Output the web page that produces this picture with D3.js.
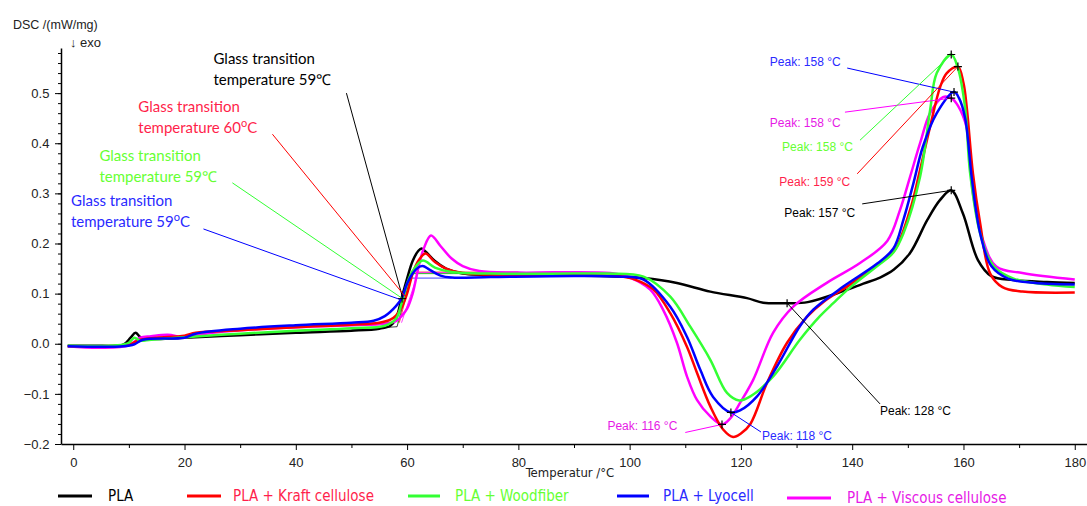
<!DOCTYPE html>
<html>
  <head>
    <meta charset="utf-8" />
    <title>DSC curves</title>
    <script src="https://d3js.org/d3.v7.min.js"></script>
    <style>
      body { margin: 0; background: #fff; }
      svg { display: block; }
    </style>
  </head>
  <body>
    <svg id="plot" width="1087" height="506"></svg>

    <script>
      // series: [temperature °C, DSC mW/mg]
      var pla = [[-1,-0.004],[5,-0.004],[9,-0.002],[10.3,0.012],[11.2,0.022],[12,0.014],[13,0.01],[20,0.012],[30,0.017],[40,0.022],[50,0.026],[55,0.03],[57,0.036],[58,0.05],[59,0.09],[60,0.13],[61,0.165],[62,0.185],[62.6,0.19],[63.5,0.182],[65,0.165],[67,0.15],[70,0.14],[80,0.137],[90,0.136],[100,0.133],[102.5,0.131],[108.5,0.121],[114.5,0.104],[121.1,0.091],[124,0.082],[128.3,0.081],[132,0.083],[138.4,0.105],[142,0.12],[145,0.132],[147.5,0.148],[150.4,0.181],[153.5,0.247],[155.8,0.287],[157.8,0.306],[159.9,0.26],[162.6,0.167],[165,0.135],[169,0.127],[175,0.123],[180,0.121]];
      var kraft = [[-1,-0.005],[8,-0.004],[10,-0.002],[12,0.008],[15,0.012],[20,0.016],[22,0.022],[30,0.027],[40,0.033],[50,0.038],[55,0.042],[57,0.048],[58,0.056],[59,0.072],[60,0.1],[61,0.14],[62,0.165],[63.3,0.18],[65,0.163],[67,0.15],[70,0.141],[80,0.137],[90,0.136],[98,0.135],[101,0.128],[104.3,0.108],[107.3,0.061],[110.3,-0.006],[112.1,-0.058],[114.5,-0.125],[116.8,-0.171],[118.6,-0.186],[120,-0.179],[121.7,-0.16],[124.7,-0.078],[128.3,0.002],[131.9,0.054],[135,0.085],[139.6,0.118],[144.5,0.158],[147.5,0.185],[150.4,0.267],[152.2,0.347],[154,0.433],[155.8,0.512],[157,0.54],[159,0.553],[160,0.52],[160.6,0.47],[161.7,0.34],[163,0.24],[164.8,0.14],[167,0.113],[170.6,0.104],[180,0.102]];
      var woodfiber = [[-1,-0.004],[8,-0.003],[10,0.002],[11,0.012],[12,0.006],[14,0.008],[20,0.013],[30,0.02],[40,0.026],[50,0.031],[56,0.036],[58,0.05],[59,0.08],[60,0.12],[61,0.145],[62.8,0.166],[65,0.152],[68,0.143],[75,0.14],[90,0.14],[96,0.14],[102.5,0.134],[107.3,0.094],[110.9,0.034],[114.5,-0.032],[117.5,-0.098],[119.7,-0.113],[121.7,-0.105],[125.8,-0.065],[130.6,0.008],[134.2,0.055],[136.6,0.081],[139.6,0.112],[144.5,0.155],[147.4,0.182],[149.2,0.22],[152.2,0.333],[154,0.466],[155.2,0.54],[157.8,0.577],[159,0.55],[160.3,0.47],[161.2,0.34],[163,0.22],[165.4,0.155],[169,0.13],[175,0.118],[180,0.113]];
      var lyocell = [[-1,-0.005],[9,-0.005],[11,-0.001],[12.5,0.008],[20,0.012],[22,0.02],[30,0.03],[40,0.037],[50,0.042],[54,0.046],[56,0.055],[58,0.075],[59,0.09],[60,0.12],[61,0.14],[62,0.152],[62.8,0.155],[64,0.148],[66,0.136],[68,0.132],[75,0.133],[90,0.135],[98,0.134],[102.5,0.128],[107.3,0.074],[110.3,0.014],[112.7,-0.052],[115,-0.106],[118.2,-0.137],[120,-0.132],[122.9,-0.105],[126.5,-0.045],[130.6,0.035],[133,0.068],[138.4,0.114],[144.5,0.16],[147.4,0.19],[149.2,0.247],[151,0.32],[152.7,0.393],[155.2,0.46],[158.3,0.502],[159.2,0.49],[160.3,0.45],[161.5,0.33],[163,0.22],[165,0.155],[168,0.13],[172,0.122],[180,0.118]];
      var viscous = [[-1,-0.005],[5,-0.008],[10,-0.003],[12,0.012],[14,0.015],[17,0.018],[20,0.013],[25,0.022],[30,0.027],[40,0.033],[50,0.037],[56,0.04],[58,0.045],[59,0.055],[60,0.07],[61,0.1],[62,0.15],[63,0.19],[64.3,0.216],[66,0.195],[68,0.17],[70,0.155],[73,0.145],[80,0.142],[96.5,0.141],[100,0.132],[103.7,0.108],[106,0.068],[108.5,0.002],[110.3,-0.065],[112.1,-0.112],[114.5,-0.145],[116.6,-0.161],[118,-0.15],[120,-0.115],[122.2,-0.072],[125.8,0.022],[129.4,0.074],[135.5,0.122],[141.4,0.161],[146.3,0.205],[148.6,0.267],[150.4,0.333],[152.2,0.4],[154,0.46],[156.3,0.492],[157.8,0.49],[159,0.475],[160.6,0.43],[161.7,0.3],[163.5,0.207],[165.9,0.154],[170.6,0.141],[180,0.128]];

      // thin onset construction lines near Tg
      var tgLines = [
        [[50,0.028],[58.2,0.034],[60.8,0.14],[70,0.14]],
        [[58.6,0.042],[61,0.143],[80,0.143]],
        [[58.3,0.04],[60.6,0.14],[72,0.14]],
        [[58,0.046],[60.4,0.131],[68,0.131]],
        [[59,0.042],[62,0.142],[76,0.142]]
      ];

      var seriesNames = ["PLA", "PLA + Kraft cellulose", "PLA + Woodfiber", "PLA + Lyocell", "PLA + Viscous cellulose"];
      var seriesData = [pla, kraft, woodfiber, lyocell, viscous];
      var lineColors = ["#000000", "#ff0000", "#33ff33", "#0000ff", "#ff00ff"];
      var textColors = ["#000000", "#ff1f4b", "#66ff33", "#2a2aff", "#e619e6"];
      var drawOrder = [0, 4, 1, 2, 3];

      var xTicks = [0, 20, 40, 60, 80, 100, 120, 140, 160, 180];
      var yTicks = [-0.2, -0.1, 0.0, 0.1, 0.2, 0.3, 0.4, 0.5];

      // glass transition labels: series, text lines, label pos, leader start, leader end
      var tgLabels = [
        { s: 0, l1: "Glass transition", l2: "temperature 59", deg: "℃", at: [25.2, 0.558], from: [49.1, 0.5], to: [59.2, 0.092] },
        { s: 1, l1: "Glass transition", l2: "temperature 60", deg: "oC", at: [11.7, 0.462], from: [35.8, 0.418], to: [59.6, 0.095] },
        { s: 2, l1: "Glass transition", l2: "temperature 59", deg: "℃", at: [4.7, 0.365], from: [28.6, 0.321], to: [59.2, 0.09] },
        { s: 3, l1: "Glass transition", l2: "temperature 59", deg: "oC", at: [-0.4, 0.275], from: [23.4, 0.229], to: [58.8, 0.088] }
      ];

      // peak labels
      var peakLabels = [
        { s: 3, text: "Peak: 158 °C", at: [125.2, 0.554], from: [139.1, 0.55], peak: [158.3, 0.502] },
        { s: 4, text: "Peak: 158 °C", at: [125.2, 0.432], from: [138.7, 0.462], peak: [157.8, 0.49] },
        { s: 2, text: "Peak: 158 °C", at: [127.4, 0.384], from: [141.4, 0.406], peak: [157.8, 0.577] },
        { s: 1, text: "Peak: 159 °C", at: [126.9, 0.315], from: [140.9, 0.339], peak: [159, 0.553] },
        { s: 0, text: "Peak: 157 °C", at: [127.8, 0.253], from: [141.8, 0.279], peak: [157.8, 0.306] },
        { s: 4, text: "Peak: 116 °C", at: [96, -0.173], from: [110, -0.177], peak: [116.6, -0.161] },
        { s: 3, text: "Peak: 118 °C", at: [123.8, -0.193], from: [123.6, -0.176], peak: [118.2, -0.137] },
        { s: 0, text: "Peak: 128 °C", at: [145, -0.143], from: [145, -0.12], peak: [128.3, 0.081] }
      ];

      const svg = d3.select("#plot");
      var x = d3.scaleLinear().domain([-2.2, 182.2]).range([61, 1087]);
      var y = d3.scaleLinear().domain([-0.2, 0.59]).range([444, 48]);

      // axes
      var xMinor = svg.append("g").attr("transform", "translate(0,444)")
        .call(d3.axisBottom(x).tickValues(d3.range(10, 181, 20)).tickSize(4).tickFormat(""));
      var xAxis = svg.append("g").attr("transform", "translate(0,444)")
        .call(d3.axisBottom(x).tickValues(xTicks).tickSize(6).tickSizeOuter(0).tickFormat(d3.format("d")));
      var yMinor = svg.append("g").attr("transform", "translate(61,0)")
        .call(d3.axisLeft(y).tickValues(d3.range(-0.2, 0.59, 0.02)).tickSize(3).tickFormat(""));
      var yAxis = svg.append("g").attr("transform", "translate(61,0)")
        .call(d3.axisLeft(y).tickValues(yTicks).tickSize(6).tickSizeOuter(0).tickFormat(d3.format(".1f")));

      svg.selectAll(".domain").attr("stroke", "#000").attr("stroke-width", 1.5);
      svg.selectAll(".tick line").attr("stroke", "#000");
      [xMinor, yMinor].forEach(function (g) { g.select(".domain").remove(); });
      svg.selectAll(".tick text")
        .attr("font-family", "'Liberation Sans', Arial, sans-serif")
        .attr("font-size", 13)
        .attr("fill", "#222");
      xAxis.selectAll(".tick text").attr("dy", "1.1em");
      yAxis.selectAll(".tick text").attr("dx", "-0.2em");

      // axis titles
      svg.append("text").attr("x", 13).attr("y", 29)
        .attr("font-family", "'Liberation Sans', Arial, sans-serif").attr("font-size", 12.5)
        .attr("fill", "#222").text("DSC /(mW/mg)");
      svg.append("text").attr("x", 70).attr("y", 47)
        .attr("font-family", "'Liberation Sans', Arial, sans-serif").attr("font-size", 13)
        .attr("fill", "#222").text("↓ exo");
      svg.append("text").attr("x", 570).attr("y", 477).attr("text-anchor", "middle")
        .attr("font-family", "'Liberation Sans Narrow', 'DejaVu Sans Condensed', sans-serif").attr("font-size", 13)
        .attr("fill", "#222").text("Temperatur /°C");

      // thin onset lines
      var line = d3.line().x(function (d) { return x(d[0]); }).y(function (d) { return y(d[1]); });
      svg.append("g").selectAll("path")
        .data(tgLines)
        .join("path")
        .attr("d", line)
        .attr("fill", "none")
        .attr("stroke", function (d, i) { return lineColors[i]; })
        .attr("stroke-opacity", 0.75)
        .attr("stroke-width", 1);

      // curves
      var curve = d3.line()
        .x(function (d) { return x(d[0]); })
        .y(function (d) { return y(d[1]); })
        .curve(d3.curveCatmullRom.alpha(0.5));
      svg.append("g").selectAll("path")
        .data(drawOrder)
        .join("path")
        .attr("d", function (i) { return curve(seriesData[i]); })
        .attr("fill", "none")
        .attr("stroke", function (i) { return lineColors[i]; })
        .attr("stroke-width", 2.5)
        .attr("stroke-linejoin", "round");

      // glass transition annotations
      var tg = svg.append("g");
      tgLabels.forEach(function (d) {
        tg.append("line")
          .attr("x1", x(d.from[0])).attr("y1", y(d.from[1]))
          .attr("x2", x(d.to[0])).attr("y2", y(d.to[1]))
          .attr("stroke", lineColors[d.s]).attr("stroke-width", 1);
        var t = tg.append("text")
          .attr("font-family", "Lato, 'Open Sans', sans-serif")
          .attr("font-size", 15)
          .attr("fill", textColors[d.s]);
        t.append("tspan").attr("x", x(d.at[0])).attr("y", y(d.at[1])).text(d.l1);
        t.append("tspan").attr("x", x(d.at[0])).attr("dy", 21).text(d.l2);
        if (d.deg === "oC") {
          t.append("tspan").attr("dy", -6).attr("font-size", 11).text("o");
          t.append("tspan").attr("dy", 6).text("C");
        } else {
          t.append("tspan").text(d.deg);
        }
      });
      tg.append("g").selectAll("path")
        .data([[59.1, 0.09]])
        .join("path")
        .attr("d", function (d) {
          var px = x(d[0]), py = y(d[1]);
          return "M" + (px - 4) + "," + py + "H" + (px + 4) + "M" + px + "," + (py - 4) + "V" + (py + 4);
        })
        .attr("stroke", "#000").attr("stroke-width", 1);

      // peak annotations
      var pk = svg.append("g");
      pk.selectAll("line")
        .data(peakLabels)
        .join("line")
        .attr("x1", function (d) { return x(d.from[0]); })
        .attr("y1", function (d) { return y(d.from[1]); })
        .attr("x2", function (d) { return x(d.peak[0]); })
        .attr("y2", function (d) { return y(d.peak[1]); })
        .attr("stroke", function (d) { return lineColors[d.s]; })
        .attr("stroke-width", 1);
      pk.selectAll("path")
        .data(peakLabels)
        .join("path")
        .attr("d", function (d) {
          var px = x(d.peak[0]), py = y(d.peak[1]);
          return "M" + (px - 4) + "," + py + "H" + (px + 4) + "M" + px + "," + (py - 4) + "V" + (py + 4);
        })
        .attr("stroke", "#000").attr("stroke-width", 1.2);
      pk.selectAll("text")
        .data(peakLabels)
        .join("text")
        .attr("x", function (d) { return x(d.at[0]); })
        .attr("y", function (d) { return y(d.at[1]); })
        .attr("font-family", "'Liberation Sans', Arial, sans-serif")
        .attr("font-size", 12)
        .attr("fill", function (d) { return textColors[d.s]; })
        .text(function (d) { return d.text; });

      // legend
      var legendX = [58, 187, 408, 617, 787];
      var legendW = [34, 34, 32, 32, 44];
      var legendTx = [108, 233, 455, 663, 847];
      var legend = svg.append("g");
      seriesNames.forEach(function (name, i) {
        var ly = i === 4 ? 498 : 496;
        legend.append("line")
          .attr("x1", legendX[i]).attr("x2", legendX[i] + legendW[i])
          .attr("y1", ly).attr("y2", ly)
          .attr("stroke", lineColors[i]).attr("stroke-width", 3);
        legend.append("text")
          .attr("x", legendTx[i]).attr("y", ly + 5)
          .attr("font-family", "'Liberation Sans Narrow', 'DejaVu Sans Condensed', sans-serif")
          .attr("font-size", 15)
          .attr("fill", textColors[i])
          .text(name);
      });
    </script>
  </body>
</html>
